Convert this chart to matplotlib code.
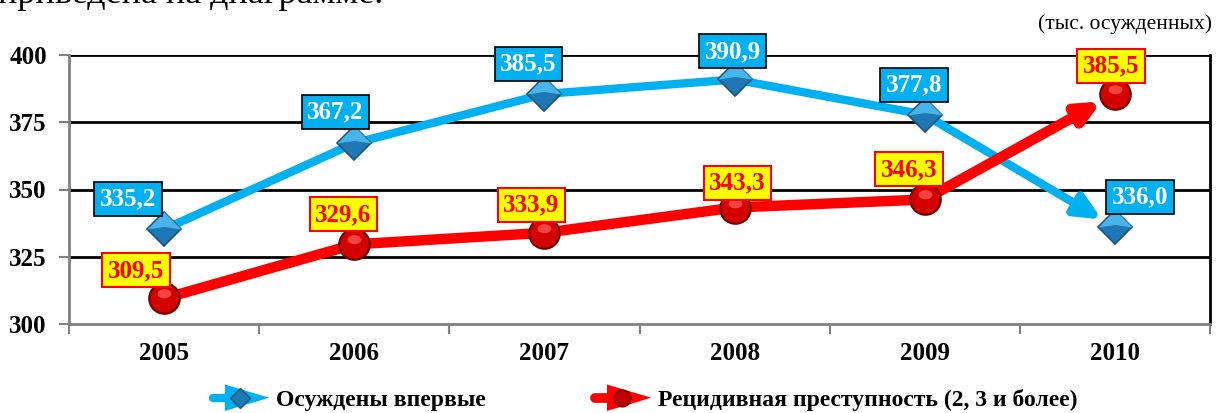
import matplotlib
matplotlib.use("Agg")
import matplotlib.pyplot as plt
from matplotlib.lines import Line2D
from matplotlib.patches import Polygon
from matplotlib.path import Path
from matplotlib.legend_handler import HandlerBase
import numpy as np

years = ["2005", "2006", "2007", "2008", "2009", "2010"]
first_time = [335.2, 367.2, 385.5, 390.9, 377.8, 336.0]
recidive = [309.5, 329.6, 333.9, 343.3, 346.3, 385.5]
series_names = ["Осуждены впервые", "Рецидивная преступность (2, 3 и более)"]
y_ticks = [300, 325, 350, 375, 400]

# layout (label offsets in pixels)
blue_off = [(-36, 30), (-19, 31), (-16, 30), (-2, 28), (-11, 30), (25, 30)]
red_off = [(-28, 28), (-11, 30), (-13, 28), (3, 25), (-16, 30), (-4, 28)]

BLUE = "#00B0F0"
RED = "#FF0000"
SERIF = ["Liberation Serif", "DejaVu Serif"]

fig = plt.figure(figsize=(12.18, 4.13), dpi=100)
ax = fig.add_axes([69 / 1218, 1 - 324 / 413, (1210 - 69) / 1218, (324 - 55) / 413])

x = np.arange(len(years))
ax.set_xlim(-0.5, len(years) - 0.5)
ax.set_ylim(300, 400)

# grid
for v in y_ticks[1:]:
    ax.axhline(v, color="black", lw=2, zorder=1)
ax.spines["left"].set_color("#808080")
ax.spines["left"].set_linewidth(2)
ax.spines["bottom"].set_color("#808080")
ax.spines["bottom"].set_linewidth(2)
ax.spines["top"].set_visible(False)
ax.spines["right"].set_color("black")
ax.spines["right"].set_linewidth(2)

ax.set_yticks(y_ticks)
ax.set_yticklabels([str(v) for v in y_ticks], fontsize=18, fontweight="bold", family=SERIF)
ax.tick_params(axis="y", length=7, width=1.5, color="#808080", pad=9)
ax.set_xticks(x)
ax.set_xticklabels(years, fontsize=18, fontweight="bold", family=SERIF)
ax.tick_params(axis="x", length=0, pad=13)
ax.set_xticks(np.arange(len(years) + 1) - 0.5, minor=True)
ax.tick_params(axis="x", which="minor", length=7, width=1.5, color="#808080")


def draw_series(vals, color, lw, head_w, head_l):
    ax.plot(x[:-1], vals[:-1], color=color, lw=lw, solid_capstyle="butt", zorder=3)
    ax.annotate("", xy=(x[-1], vals[-1]), xytext=(x[-2], vals[-2]),
                arrowprops=dict(arrowstyle=f"-|>,head_length={head_l},head_width={head_w}",
                                color=color, lw=lw, shrinkA=0, shrinkB=11),
                zorder=3)


draw_series(first_time, BLUE, 6, 0.7, 1.5)
draw_series(recidive, RED, 7.5, 0.6, 1.3)

# highlight paths (leading MOVETO fixes the normalisation scale)
circle = Path.circle((0, 0.32), 0.5)
hl_sphere = Path(np.vstack([[[1, 1]], circle.vertices * [0.9, 0.6] + [0, 0.12]]),
                 np.concatenate([[Path.MOVETO], circle.codes]))
hl_diamond = Path([[1, 1], [-1, 0], [0, 1], [1, 0], [0, 0.15], [-1, 0]],
                  [Path.MOVETO, Path.MOVETO, Path.LINETO, Path.LINETO, Path.LINETO, Path.CLOSEPOLY])

# markers with a simple 3D look
ax.plot(x, first_time, ls="none", marker="D", ms=17.5, mfc="#1F78B4", mec="#15557F", mew=1.2, zorder=4)
ax.plot(x, first_time, ls="none", marker=hl_diamond, ms=24.5, mfc="#49B4EA", mec="none", zorder=5)
ax.plot(x, recidive, ls="none", marker="o", ms=22, mfc="#D40000", mec="#6E0000", mew=1.5, zorder=4)
ax.plot(x, recidive, ls="none", marker=hl_sphere, ms=22, mfc="#FF5A5A", mec="none", alpha=0.75, zorder=5)

for xi, v, (dx, dy) in zip(x, first_time, blue_off):
    ax.annotate(f"{v:.1f}".replace(".", ","), xy=(xi, v), xytext=(dx * 0.72, dy * 0.72),
                textcoords="offset points", ha="center", va="center",
                fontsize=18, fontweight="bold", family=SERIF, color="white",
                bbox=dict(boxstyle="square,pad=0.22", fc=BLUE, ec="black", lw=1.2), zorder=6)
for xi, v, (dx, dy) in zip(x, recidive, red_off):
    ax.annotate(f"{v:.1f}".replace(".", ","), xy=(xi, v), xytext=(dx * 0.72, dy * 0.72),
                textcoords="offset points", ha="center", va="center",
                fontsize=18, fontweight="bold", family=SERIF, color=RED,
                bbox=dict(boxstyle="square,pad=0.22", fc="#FFFF00", ec=RED, lw=1.5), zorder=6)

fig.text(1212 / 1218, 1 - 24 / 413, "(тыс. осужденных)", ha="right", va="center",
         fontsize=15.5, family=SERIF)
fig.text(-2 / 1218, 1 - 3 / 413, "приведена на диаграмме.", ha="left", va="baseline",
         fontsize=26, family=SERIF)


class ArrowHandler(HandlerBase):
    def create_artists(self, legend, orig_handle, xdescent, ydescent, width, height, fontsize, trans):
        color = orig_handle.get_color()
        y = height / 2 - ydescent
        x0 = -xdescent
        line = Line2D([x0 + 2, x0 + width * 0.45], [y, y], color=color, lw=orig_handle.get_linewidth(),
                      solid_capstyle="round", transform=trans)
        h = height * 0.8
        head = Polygon([[x0 + width * 0.25, y + h], [x0 + width, y], [x0 + width * 0.25, y - h]],
                       closed=True, fc=color, ec="none", transform=trans)
        m = Line2D([x0 + width * 0.5], [y], ls="none", marker=orig_handle.get_marker(),
                   ms=orig_handle.get_markersize(), mfc=orig_handle.get_markerfacecolor(),
                   mec=orig_handle.get_markeredgecolor(), mew=1, transform=trans)
        return [line, head, m]


h1 = Line2D([], [], color=BLUE, lw=6, marker="D", ms=10, mfc="#1F78B4", mec="#15557F")
h2 = Line2D([], [], color=RED, lw=7, marker="o", ms=12, mfc="#C00000", mec="#6E0000")
fig.legend([h1, h2], series_names, loc="center", bbox_to_anchor=(644 / 1218, 1 - 400 / 413),
           ncol=2, frameon=False, handler_map={h1: ArrowHandler(), h2: ArrowHandler()},
           handlelength=2.5, handletextpad=0.3, columnspacing=4.5,
           prop=dict(family=SERIF, weight="bold", size=17))

fig.savefig("out.png", dpi=100)
